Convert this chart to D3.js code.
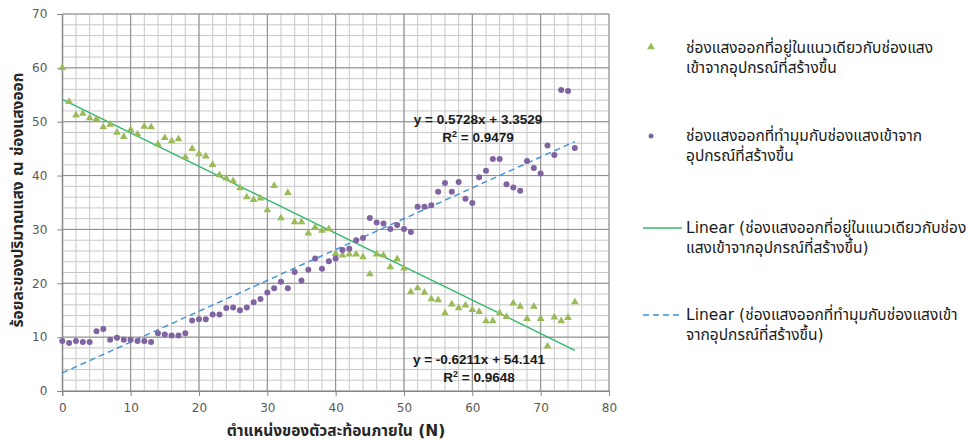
<!DOCTYPE html>
<html><head><meta charset="utf-8">
<script src="https://cdn.jsdelivr.net/npm/d3@7"></script>
<style>
body{margin:0;background:#fff;}
svg{display:block;}
.thai{font-family:"DejaVu Sans",Tahoma,"Noto Sans Thai","Loma","Garuda",sans-serif;}
</style></head>
<body>
<svg id="c" width="969" height="442"></svg>
<script>
const xValues = d3.range(0, 76);
const greenValues = [60.0,53.7,51.2,51.5,50.7,50.5,49.0,49.5,48.0,47.2,48.5,47.7,49.1,49.0,45.8,47.0,46.4,46.8,43.4,45.0,44.0,43.6,42.0,40.1,39.5,39.0,37.7,36.0,35.5,35.8,33.6,38.1,32.1,36.8,31.4,31.4,29.3,30.4,29.8,30.1,25.5,25.2,25.4,25.4,24.9,21.7,25.4,25.2,23.0,24.5,22.8,18.4,19.1,18.3,17.1,16.9,14.5,16.1,15.4,15.9,15.1,14.7,13.0,13.0,14.5,13.8,16.3,15.7,13.4,15.7,13.4,8.3,13.7,13.0,13.6,16.5];
const purpleValues = [9.3,8.9,9.3,9.1,9.1,11.1,11.5,9.5,9.9,9.5,9.5,9.3,9.3,9.1,10.7,10.5,10.3,10.3,10.7,13.1,13.3,13.3,14.2,14.2,15.4,15.5,15.0,15.5,16.5,17.1,18.3,19.1,20.3,19.1,22.1,20.5,22.5,24.6,22.7,24.1,24.6,26.2,26.4,28.0,28.4,32.1,31.3,31.1,30.1,30.8,30.1,29.5,34.2,34.2,34.5,37.0,38.6,37.0,38.8,35.7,34.9,39.7,40.9,43.1,43.1,38.4,37.8,37.2,42.7,41.4,40.4,45.6,43.8,55.9,55.7,45.1];
const seriesNames = ["ช่องแสงออกที่อยู่ในแนวเดียวกับช่องแสงเข้าจากอุปกรณ์ที่สร้างขึ้น","ช่องแสงออกที่ทำมุมกับช่องแสงเข้าจากอุปกรณ์ที่สร้างขึ้น"];
const legendLines = [
  ["ช่องแสงออกที่อยู่ในแนวเดียวกับช่องแสง","เข้าจากอุปกรณ์ที่สร้างขึ้น"],
  ["ช่องแสงออกที่ทำมุมกับช่องแสงเข้าจาก","อุปกรณ์ที่สร้างขึ้น"],
  ["Linear (ช่องแสงออกที่อยู่ในแนวเดียวกับช่อง","แสงเข้าจากอุปกรณ์ที่สร้างขึ้น)"],
  ["Linear (ช่องแสงออกที่ทำมุมกับช่องแสงเข้า","จากอุปกรณ์ที่สร้างขึ้น)"]
];
const trendSlopes = [-0.6211, 0.5728];
const trendIntercepts = [54.141, 3.3529];
const trendR2 = ["0.9648","0.9479"];
const xTicks = [0,10,20,30,40,50,60,70,80];
const yTicks = [0,10,20,30,40,50,60,70];
const xTitle = "ตำแหน่งของตัวสะท้อนภายใน (N)";
const yTitle = "ร้อยละของปริมาณแสง ณ ช่องแสงออก";

const svg = d3.select("#c");
const L=62.3, R=609, T=14, B=391;
const x = d3.scaleLinear().domain([0,80]).range([L,R]);
const y = d3.scaleLinear().domain([0,70]).range([B,T]);

const g = svg.append("g");
g.selectAll(".mx").data(d3.range(0,81,2)).enter().append("line")
 .attr("x1",d=>x(d)).attr("x2",d=>x(d)).attr("y1",T).attr("y2",B)
 .attr("stroke","#c8c8c8").attr("stroke-width",1);
g.selectAll(".my").data(d3.range(0,71,2)).enter().append("line")
 .attr("y1",d=>y(d)).attr("y2",d=>y(d)).attr("x1",L).attr("x2",R)
 .attr("stroke","#c8c8c8").attr("stroke-width",1);
g.selectAll(".Mx").data(xTicks).enter().append("line")
 .attr("x1",d=>x(d)).attr("x2",d=>x(d)).attr("y1",T).attr("y2",B).attr("stroke","#8c8c8c");
g.selectAll(".My").data(yTicks).enter().append("line")
 .attr("y1",d=>y(d)).attr("y2",d=>y(d)).attr("x1",L).attr("x2",R).attr("stroke","#8c8c8c");

const xa = svg.append("g").attr("transform",`translate(0,${B})`)
 .call(d3.axisBottom(x).tickValues(xTicks).tickSize(5).tickPadding(7));
const ya = svg.append("g").attr("transform",`translate(${L},0)`)
 .call(d3.axisLeft(y).tickValues(yTicks).tickSize(5).tickPadding(10));
[xa,ya].forEach(a=>{
  a.selectAll("path,line").attr("stroke","#868686");
  a.selectAll("text").attr("fill","#595959").style("font-family","'DejaVu Sans',Verdana,sans-serif").style("font-size","12px");
});

const trendColors = ["#2fb86b","#3d8fd9"];
[0,1].forEach(i=>{
  svg.append("line")
   .attr("x1",x(0)).attr("y1",y(trendIntercepts[i]))
   .attr("x2",x(75)).attr("y2",y(trendSlopes[i]*75+trendIntercepts[i]))
   .attr("stroke",trendColors[i]).attr("stroke-width",1.4)
   .attr("stroke-dasharray",i===1?"6,4":null);
});

const tri = d3.symbol().type(d3.symbolTriangle).size(26);
svg.append("g").selectAll("path").data(xValues).enter().append("path")
 .attr("d",tri).attr("transform",(d,i)=>`translate(${x(d)},${y(greenValues[i])})`)
 .attr("fill","#9bbb59");
svg.append("g").selectAll("circle").data(xValues).enter().append("circle")
 .attr("cx",d=>x(d)).attr("cy",(d,i)=>y(purpleValues[i])).attr("r",3)
 .attr("fill","#8064a2");

const eqFont = "Arial,'Liberation Sans',sans-serif";
function eq(xp, yp, txt, r2){
  const t = svg.append("text").attr("x",xp).attr("y",yp).attr("text-anchor","middle")
   .style("font-family",eqFont).style("font-size","13.5px").style("font-weight","bold").attr("fill","#1a1a1a");
  t.text(txt);
  const t2 = svg.append("text").attr("x",xp).attr("y",yp+18).attr("text-anchor","middle")
   .style("font-family",eqFont).style("font-size","13.5px").style("font-weight","bold").attr("fill","#1a1a1a");
  t2.append("tspan").text("R");
  t2.append("tspan").attr("dy",-5).style("font-size","9px").text("2");
  t2.append("tspan").attr("dy",5).text(" = "+r2);
}
eq(478,124,`y = ${trendSlopes[1]}x + ${trendIntercepts[1]}`,trendR2[1]);
eq(479,364,`y = ${trendSlopes[0]}x + ${trendIntercepts[0]}`,trendR2[0]);

svg.append("text").attr("class","thai").attr("x",336).attr("y",436).attr("text-anchor","middle")
 .style("font-size","15.5px").style("font-weight","bold").attr("fill","#262626").text(xTitle);
svg.append("text").attr("class","thai").attr("transform","translate(23,200) rotate(-90)").attr("text-anchor","middle")
 .style("font-size","15.5px").style("font-weight","bold").attr("fill","#262626").text(yTitle);

const lg = svg.append("g");
const legY = [53,141,233,320];
lg.append("path").attr("d",tri).attr("transform",`translate(651,47)`).attr("fill","#9bbb59");
lg.append("circle").attr("cx",651).attr("cy",136).attr("r",2.5).attr("fill","#8064a2");
lg.append("line").attr("x1",643).attr("x2",682).attr("y1",228).attr("y2",228).attr("stroke",trendColors[0]).attr("stroke-width",1.4);
lg.append("line").attr("x1",643).attr("x2",682).attr("y1",315).attr("y2",315).attr("stroke",trendColors[1]).attr("stroke-width",1.4).attr("stroke-dasharray","6,4");
legendLines.forEach((lines,i)=>{
  lines.forEach((s,j)=>{
    lg.append("text").attr("class","thai").attr("x",686).attr("y",legY[i]+j*20)
     .style("font-size","15.5px").attr("fill","#1a1a1a").text(s);
  });
});
</script>
</body></html>
